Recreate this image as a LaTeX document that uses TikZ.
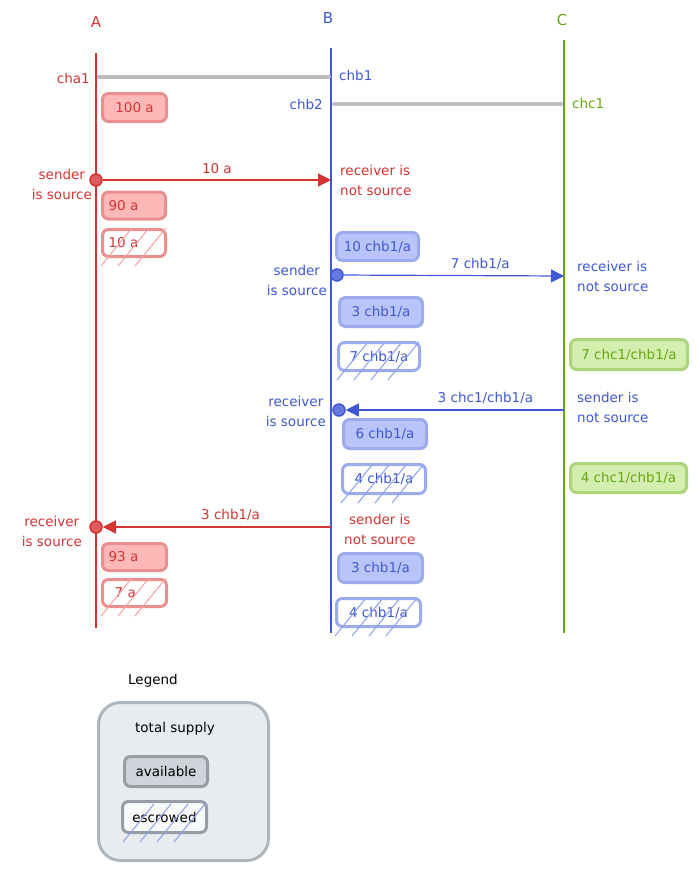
\documentclass[tikz,border=0pt]{standalone}
\usepackage{fontspec}
\setmainfont{DejaVu Sans}
\usetikzlibrary{arrows.meta,calc}

% palette
\definecolor{rA}{RGB}{214,51,51}
\definecolor{rFill}{RGB}{255,184,184}
\definecolor{rEdge}{RGB}{232,143,143}
\definecolor{rHatch}{RGB}{247,160,160}
\definecolor{bB}{RGB}{62,88,214}
\definecolor{bFill}{RGB}{184,196,250}
\definecolor{bEdge}{RGB}{155,171,238}
\definecolor{bHatch}{RGB}{140,160,240}
\definecolor{gC}{RGB}{102,168,15}
\definecolor{gFill}{RGB}{212,238,175}
\definecolor{gEdge}{RGB}{172,212,122}
\definecolor{chan}{RGB}{186,188,191}
\definecolor{legFill}{RGB}{233,236,239}
\definecolor{legEdge}{RGB}{173,181,189}
\definecolor{availFill}{RGB}{206,212,218}
\definecolor{availEdge}{RGB}{150,157,165}
\definecolor{escFill}{RGB}{248,249,250}

% diagonal hatch strokes rising from just below a node's bottom edge
\newcommand{\hatchlines}[3]{%
  \foreach \k in {#3}
    \draw[#2, line width=1pt, line cap=round]
      ($(#1.south west)+(\k,8)$) -- ++(31,-38);}

\tikzset{
  lifeline/.style={line width=1.2pt},
  chanline/.style={draw=chan, line width=4pt, line cap=round},
  actor/.style={font=\fontsize{15}{18}\selectfont},
  note/.style={inner sep=0pt, font=\fontsize{13.5}{20}\selectfont},
  supply/.style={rounded corners=6pt, line width=3pt, inner xsep=6pt, inner ysep=0pt,
    font=\fontsize{13.5}{18}\selectfont},
  redbox/.style={supply, draw=rEdge, fill=rFill, text=rA},
  redesc/.style={supply, draw=rEdge, fill=white, text=rA},
  bluebox/.style={supply, draw=bEdge, fill=bFill, text=bB},
  blueesc/.style={supply, draw=bEdge, fill=white, text=bB},
  greenbox/.style={supply, draw=gEdge, fill=gFill, text=gC},
  dot/.style={circle, minimum size=12pt, inner sep=0pt, line width=1.5pt},
  msg/.style={line width=1.2pt, -{Triangle[length=13pt,width=13pt]}},
  msglabel/.style={above=2pt, font=\fontsize{13.5}{18}\selectfont},
}

\begin{document}
\begin{tikzpicture}[x=1pt,y=-1pt]
\useasboundingbox (0,0) rectangle (697,873);

% actors and lifelines
\node[actor, text=rA] (lblA) at (96,22) {A};
\node[actor, text=bB] (lblB) at (328,18) {B};
\node[actor, text=gC] (lblC) at (562,20) {C};
\coordinate (Atop) at (96,53);  \coordinate (Abot) at (96,628);
\coordinate (Btop) at (331,48); \coordinate (Bbot) at (331,633);
\coordinate (Ctop) at (564,40); \coordinate (Cbot) at (564,633);
\draw[lifeline, rA] (Atop) -- (Abot);
\draw[lifeline, bB] (Btop) -- (Bbot);
\draw[lifeline, gC] (Ctop) -- (Cbot);

% channels
\coordinate (cha1end) at (99,77);  \coordinate (chb1end) at (329,77);
\coordinate (chb2end) at (334,104); \coordinate (chc1end) at (561,104);
\draw[chanline] (cha1end) -- (chb1end);
\draw[chanline] (chb2end) -- (chc1end);
\node[note, text=rA, anchor=east] (cha1) at (90,78) {cha1};
\node[note, text=bB, anchor=west] (chb1) at (339,75) {chb1};
\node[note, text=bB, anchor=east] (chb2) at (323,104) {chb2};
\node[note, text=gC, anchor=west] (chc1) at (572,103) {chc1};

% initial supply
\node[redbox, minimum width=64pt, minimum height=28pt] (r100) at (134.5,107.5) {100 a};

% step 1: A sends 10 a to B
\node[dot, draw=rA, fill=rA!80!white] (dA1) at (96,180) {};
\coordinate (tB1) at (331,180);
\draw[msg, rA] (dA1) -- node[msglabel, text=rA] (m1) {10 a} (tB1);
\node[note, text=rA, anchor=east, align=center] (sA1) at (92,184) {sender\\is source};
\node[note, text=rA, anchor=west, align=left] (rB1) at (340,180) {receiver is\\not source};
\node[redbox, minimum width=63pt, minimum height=27pt, text width=51pt, align=left] (r90) at (134,205.5) {90 a};
\node[redesc, minimum width=63pt, minimum height=27pt, text width=51pt, align=left] (r10) at (134,243) {10 a};
\hatchlines{r10}{rHatch}{0,17,34}
\node[bluebox, minimum width=82pt, minimum height=28pt] (b10) at (377.5,246.5) {10 chb1/a};

% step 2: B sends 7 chb1/a to C
\node[dot, draw=bB, fill=bB!80!white] (dB1) at (337,275) {};
\coordinate (tC1) at (564,276);
\draw[msg, bB] (dB1) -- node[msglabel, text=bB, pos=0.62] (m2) {7 chb1/a} (tC1);
\node[note, text=bB, anchor=east, align=center] (sB1) at (327,280) {sender\\is source};
\node[note, text=bB, anchor=west, align=left] (rC1) at (577,276) {receiver is\\not source};
\node[bluebox, minimum width=83pt, minimum height=29pt] (b3) at (381,312) {3 chb1/a};
\node[blueesc, minimum width=81pt, minimum height=28pt] (b7) at (379,356.5) {7 chb1/a};
\hatchlines{b7}{bHatch}{0,17,34,51}
\node[greenbox, minimum width=117pt, minimum height=30pt] (g7) at (629,354.5) {7 chc1/chb1/a};

% step 3: C returns 3 chc1/chb1/a to B
\coordinate (sC2pt) at (564,410);
\node[dot, draw=bB, fill=bB!80!white] (dB2) at (339,410) {};
\draw[msg, bB] (sC2pt) -- node[msglabel, text=bB, pos=0.36] (m3) {3 chc1/chb1/a} (dB2);
\node[note, text=bB, anchor=east, align=center] (rB2) at (326,411) {receiver\\is source};
\node[note, text=bB, anchor=west, align=left] (sC2) at (577,407) {sender is\\not source};
\node[bluebox, minimum width=83pt, minimum height=29pt] (b6) at (385,434) {6 chb1/a};
\node[blueesc, minimum width=83pt, minimum height=29pt] (b4) at (384,479) {4 chb1/a};
\hatchlines{b4}{bHatch}{0,17,34,51}
\node[greenbox, minimum width=116pt, minimum height=29pt] (g4) at (628.5,478) {4 chc1/chb1/a};

% step 4: B returns 3 chb1/a to A
\coordinate (sB3pt) at (331,527);
\node[dot, draw=rA, fill=rA!80!white] (dA2) at (96,527) {};
\draw[msg, rA] (sB3pt) -- node[msglabel, text=rA, pos=0.44] (m4) {3 chb1/a} (dA2);
\node[note, text=rA, anchor=east, align=center] (rA2) at (82,531) {receiver\\is source};
\node[note, text=rA, anchor=west, align=center] (sB3) at (344,529) {sender is\\not source};
\node[redbox, minimum width=64pt, minimum height=27pt, text width=52pt, align=left] (r93) at (134.5,557) {93 a};
\node[redesc, minimum width=64pt, minimum height=27pt, text width=52pt, align=left] (r7) at (134.5,593) {\hspace*{6pt}7 a};
\hatchlines{r7}{rHatch}{0,17,34}
\node[bluebox, minimum width=84pt, minimum height=29pt] (b3b) at (380.5,568) {3 chb1/a};
\node[blueesc, minimum width=84pt, minimum height=28pt] (b4b) at (378.5,612.5) {4 chb1/a};
\hatchlines{b4b}{bHatch}{0,17,34,51}

% legend
\node[note, text=black] (legTitle) at (153,681) {Legend};
\node[draw=legEdge, fill=legFill, line width=3pt, rounded corners=22pt,
      minimum width=170pt, minimum height=158pt] (legBox) at (183.5,781.5) {};
\node[note, text=black] (legTotal) at (175,729) {total supply};
\node[supply, draw=availEdge, fill=availFill, text=black, minimum width=83pt, minimum height=30pt] (legAvail) at (166,771.5) {available};
\node[supply, draw=availEdge, fill=escFill, text=black, minimum width=84pt, minimum height=31pt] (legEsc) at (164.5,817) {escrowed};
\hatchlines{legEsc}{bHatch}{2,19,36,53}
\end{tikzpicture}
\end{document}
